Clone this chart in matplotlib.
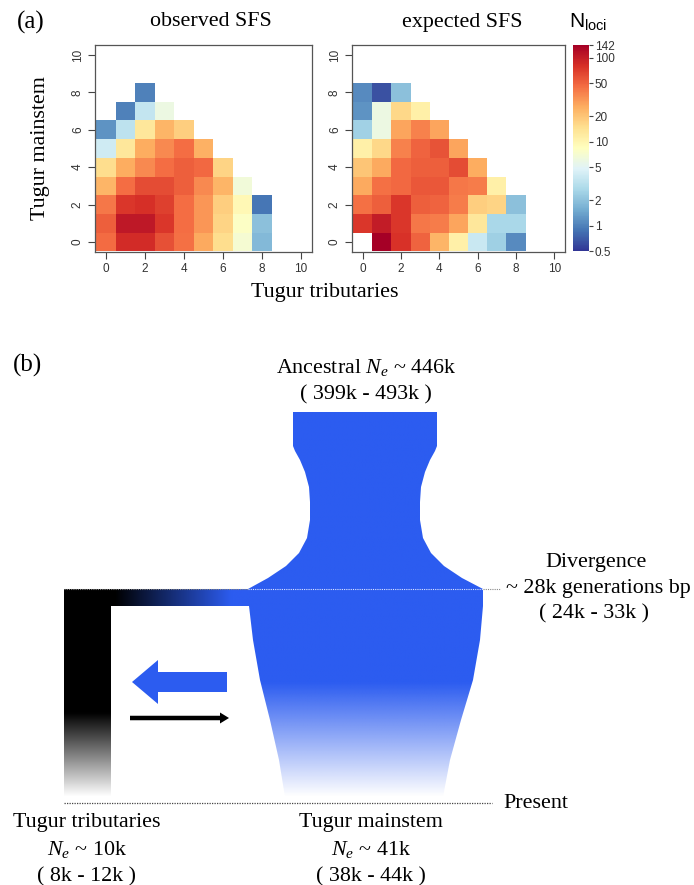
import numpy as np
import matplotlib
matplotlib.use('Agg')
import matplotlib.pyplot as plt
from matplotlib.colors import LogNorm, to_rgb
from matplotlib.patches import Polygon, FancyArrow
from matplotlib.ticker import NullLocator

nan = np.nan

# ---------------- data ----------------
# rows: Tugur mainstem allele count (0..10), columns: Tugur tributaries allele count (0..10)
observed_sfs = [
    [47, 85, 85, 60, 45, 27, 15, 7, 1.8, nan, nan],
    [52, 105, 105, 76, 46, 32, 17, 8, 2, nan, nan],
    [42, 75, 81, 70, 46, 32, 18, 9.5, 0.9, nan, nan],
    [24, 46, 62, 62, 52, 36, 24, 6.5, nan, nan, nan],
    [15, 26, 36, 46, 52, 48, 17, nan, nan, nan, nan],
    [4, 13, 26, 36, 46, 25, nan, nan, nan, nan, nan],
    [1.2, 3.3, 13, 24, 18, nan, nan, nan, nan, nan, nan],
    [nan, 1.0, 3.5, 6, nan, nan, nan, nan, nan, nan, nan],
    [nan, nan, 1.0, nan, nan, nan, nan, nan, nan, nan, nan],
    [nan] * 11,
    [nan] * 11,
]
expected_sfs = [
    [nan, 140, 80, 50, 24, 11, 3.8, 2.4, 1.1, nan, nan],
    [75, 100, 75, 42, 40, 28, 13, 2.7, 2.7, nan, nan],
    [45, 52, 75, 52, 50, 40, 18, 17, 2, nan, nan],
    [27, 45, 48, 56, 55, 42, 40, 11, nan, nan, nan],
    [20, 27, 48, 52, 52, 62, 26, nan, nan, nan, nan],
    [11, 16, 38, 50, 58, 28, nan, nan, nan, nan, nan],
    [2.5, 6, 28, 38, 28, nan, nan, nan, nan, nan, nan],
    [1.2, 6, 16, 11, nan, nan, nan, nan, nan, nan, nan],
    [1.1, 0.65, 2, nan, nan, nan, nan, nan, nan, nan, nan],
    [nan] * 11,
    [nan] * 11,
]
axis_ticks = [0, 2, 4, 6, 8, 10]
cbar_ticks = [0.5, 1, 2, 5, 10, 20, 50, 100, 142]
cbar_labels = ['0.5', '1', '2', '5', '10', '20', '50', '100', '142']
panel_titles = ['observed SFS', 'expected SFS']
x_label = 'Tugur tributaries'
y_label = 'Tugur mainstem'

ancestral_text = ['Ancestral $N_e$ ~ 446k', '( 399k - 493k )']
divergence_text = ['Divergence', '~ 28k generations bp', '( 24k - 33k )']
tributaries_text = ['Tugur tributaries', '$N_e$ ~ 10k', '( 8k - 12k )']
mainstem_text = ['Tugur mainstem', '$N_e$ ~ 41k', '( 38k - 44k )']

# ---------------- style ----------------
plt.rcParams['font.family'] = ['Liberation Serif', 'DejaVu Serif']
plt.rcParams['mathtext.fontset'] = 'custom'
plt.rcParams['mathtext.rm'] = 'Liberation Serif'
plt.rcParams['mathtext.it'] = 'Liberation Serif:italic'
plt.rcParams['mathtext.sf'] = 'Liberation Sans'
SANS = ['Liberation Sans', 'DejaVu Sans']

W, H = 694, 885
fig = plt.figure(figsize=(W / 100, H / 100), dpi=100)


def rect(l, t, r, b):
    return [l / W, 1 - b / H, (r - l) / W, (b - t) / H]


def fx(x):
    return x / W


def fy(y):
    return 1 - y / H


# ---------------- diagram (panel b) in pixel-space axes ----------------
dax = fig.add_axes([0, 0, 1, 1], zorder=-1)
dax.set_xlim(0, W)
dax.set_ylim(H, 0)
dax.axis('off')

BLUE = '#2c5cf0'
blue_rgb = np.array(to_rgb(BLUE))

# diagram geometry (pixels)
div_y, present_y = 589, 803
left_edge = [(293, 412), (293, 446), (295, 451), (300, 460), (305, 472), (309, 487),
             (310, 502), (310, 520), (307, 538), (299, 553), (286, 566), (268, 578),
             (248, 589), (249, 606), (253, 640), (260, 680), (270, 720), (279, 760),
             (285, 797)]
right_edge = [(437, 412), (437, 446), (435, 451), (430, 460), (425, 472), (421, 487),
              (420, 502), (420, 520), (423, 538), (431, 553), (444, 566), (462, 578),
              (483, 589), (483, 606), (480, 640), (473, 680), (461, 720), (450, 760),
              (443, 797)]
shape = left_edge + right_edge[::-1]
poly = Polygon(shape, closed=True, facecolor='none', edgecolor='none')
dax.add_patch(poly)

ys = np.linspace(412, 797, 400)
alpha = np.clip((797 - ys) / (797 - 683), 0, 1)
grad = np.ones((len(ys), 1, 4))
grad[:, 0, :3] = blue_rgb
grad[:, 0, 3] = alpha
im = dax.imshow(grad, extent=(240, 490, 797, 412), origin='upper', aspect='auto',
                interpolation='bilinear', zorder=2)
im.set_clip_path(poly)

# black vertical bar with fade
ys2 = np.linspace(589, 797, 300)
a2 = np.clip((797 - ys2) / (797 - 713), 0, 1)
g2 = np.zeros((len(ys2), 1, 4))
g2[:, 0, 3] = a2
dax.imshow(g2, extent=(64, 111, 797, 589), origin='upper', aspect='auto',
           interpolation='bilinear', zorder=2)

# horizontal bar black -> blue
xs3 = np.linspace(64, 250, 300)
t3 = np.clip((xs3 - 115) / (232 - 115), 0, 1)
g3 = np.ones((1, len(xs3), 4))
g3[0, :, :3] = t3[:, None] * blue_rgb[None, :]
dax.imshow(g3, extent=(64, 250, 606, 589), origin='upper', aspect='auto',
           interpolation='bilinear', zorder=2)

# migration arrows
dax.add_patch(FancyArrow(227, 682, -95, 0, width=20, head_width=44, head_length=26,
                         length_includes_head=True, color=BLUE, lw=0, zorder=3))
dax.add_patch(FancyArrow(130, 718, 99, 0, width=4.5, head_width=11, head_length=9,
                         length_includes_head=True, color='black', lw=0, zorder=3))

# dotted time lines
dax.plot([64, 248], [div_y, div_y], ls=(0, (1, 1)), color='#888888', lw=0.8, zorder=4)
dax.plot([248, 483], [div_y, div_y], ls=(0, (1, 1)), color='#dfe6ff', lw=0.8, zorder=4)
dax.plot([483, 500], [div_y, div_y], ls=(0, (1, 1)), color='#888888', lw=0.8, zorder=4)
dax.plot([64, 492], [present_y, present_y], ls=(0, (1, 1)), color='#444444', lw=0.9, zorder=4)

FS = 15.8
dax.text(13, 365, '(b)', fontsize=18, ha='left', va='center')
dax.text(366, 368, ancestral_text[0], fontsize=FS, ha='center', va='center')
dax.text(366, 395, ancestral_text[1], fontsize=FS, ha='center', va='center')
dax.text(596, 562, divergence_text[0], fontsize=FS, ha='center', va='center')
dax.text(598, 589, divergence_text[1], fontsize=FS, ha='center', va='center')
dax.text(594, 614, divergence_text[2], fontsize=FS, ha='center', va='center')
dax.text(503, 803, 'Present', fontsize=FS, ha='left', va='center')
for i, yy in enumerate([822, 850, 877]):
    dax.text(87, yy, tributaries_text[i], fontsize=FS, ha='center', va='center')
    dax.text(371, yy, mainstem_text[i], fontsize=FS, ha='center', va='center')

# ---------------- heatmaps (panel a) ----------------
norm = LogNorm(vmin=0.5, vmax=142)
edges = np.arange(-0.5, 11, 1.0)
ax1 = fig.add_axes(rect(95, 45, 312, 252))
ax2 = fig.add_axes(rect(352, 45, 565, 252))
mesh = None
for ax, data in zip([ax1, ax2], [observed_sfs, expected_sfs]):
    arr = np.ma.masked_invalid(np.array(data, dtype=float))
    mesh = ax.pcolormesh(edges, edges, arr, cmap='RdYlBu_r', norm=norm)
    ax.set_xlim(-0.56, 10.56)
    ax.set_ylim(-0.54, 10.54)
    ax.set_xticks(axis_ticks)
    ax.set_yticks(axis_ticks)
    ax.set_xticklabels([str(t) for t in axis_ticks], family=SANS)
    ax.set_yticklabels([str(t) for t in axis_ticks], family=SANS, rotation=90, va='center')
    ax.tick_params(direction='out', length=5, width=0.8, color='#444444',
                   labelsize=8.5, labelcolor='#333333', pad=3)
    for s in ax.spines.values():
        s.set_color('#555555')
        s.set_linewidth(0.9)

fig.text(fx(17), fy(22), '(a)', fontsize=18, ha='left', va='center')
fig.text(fx(211), fy(22), panel_titles[0], fontsize=FS, ha='center', va='center')
fig.text(fx(462), fy(22), panel_titles[1], fontsize=FS, ha='center', va='center')
fig.text(fx(325), fy(293), x_label, fontsize=FS, ha='center', va='center')
fig.text(fx(40), fy(148), y_label, fontsize=FS, ha='center', va='center', rotation=90)

cax = fig.add_axes(rect(573, 45, 589, 251))
cb = fig.colorbar(mesh, cax=cax, ticks=cbar_ticks)
cb.outline.set_visible(False)
cax.yaxis.set_minor_locator(NullLocator())
cax.set_yticklabels(cbar_labels, family=SANS)
cax.tick_params(length=3, width=0.8, color='#444444', labelsize=8.5, labelcolor='#333333', pad=1)
fig.text(fx(588), fy(22), r'$\mathsf{N}_{\mathsf{loci}}$', fontsize=15, ha='center', va='center')

fig.savefig('out.png', dpi=100)
